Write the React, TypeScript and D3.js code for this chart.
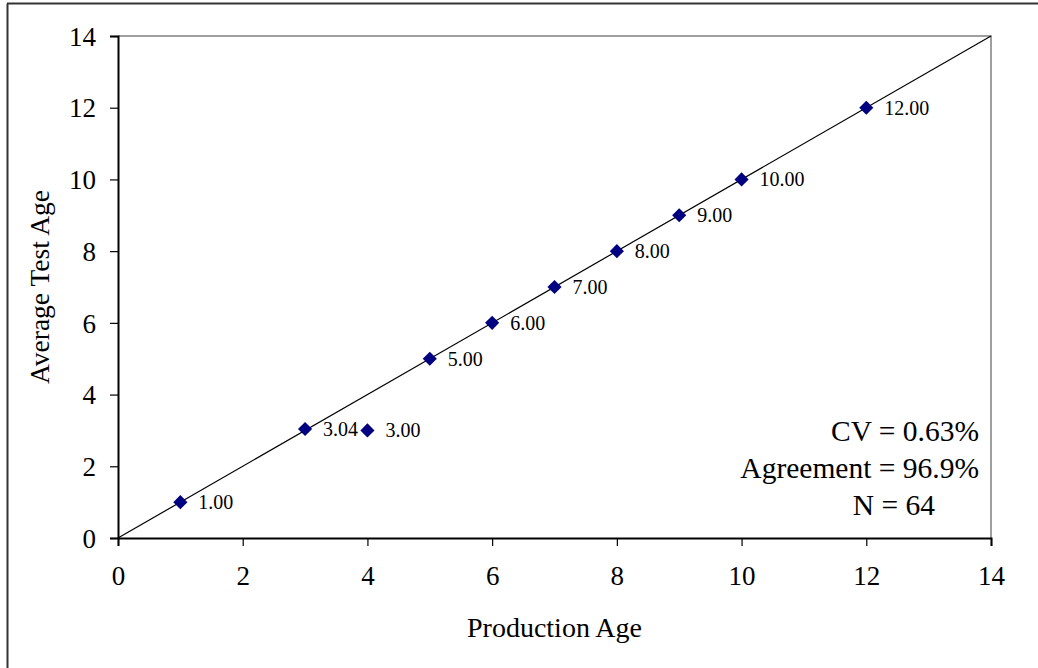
import React, { useEffect, useRef } from 'react';
import * as d3 from 'd3';

// production age vs average test age
const productionAge = [1, 3, 4, 5, 6, 7, 8, 9, 10, 12];
const testAge = [1.0, 3.04, 3.0, 5.0, 6.0, 7.0, 8.0, 9.0, 10.0, 12.0];
const tickValues = [0, 2, 4, 6, 8, 10, 12, 14];
const statLines = ['CV = 0.63%', 'Agreement = 96.9%', 'N = 64'];

const App: React.FC = () => {
  const svgRef = useRef<SVGSVGElement>(null);

  useEffect(() => {
    document.body.style.margin = '0';
    if (!svgRef.current) return;

    const width = 1038;
    const height = 668;
    const m = { left: 118, top: 36, right: 1038 - 991, bottom: 668 - 538 };
    const font = '"Liberation Serif", "Times New Roman", serif';

    const svg = d3.select(svgRef.current);
    svg.selectAll('*').remove();
    svg.attr('width', width).attr('height', height);

    const x = d3.scaleLinear().domain([0, 14]).range([m.left, width - m.right]);
    const y = d3.scaleLinear().domain([0, 14]).range([height - m.bottom, m.top]);

    // outer frame (only left and top visible)
    svg.append('line').attr('x1', 7.5).attr('x2', 7.5).attr('y1', 3.5).attr('y2', height)
      .attr('stroke', '#333').attr('stroke-width', 2);
    svg.append('line').attr('x1', 7).attr('x2', width).attr('y1', 3.5).attr('y2', 3.5)
      .attr('stroke', '#333').attr('stroke-width', 2);

    // top and right plot border
    svg.append('path')
      .attr('d', `M${x(0)},${y(14)}H${x(14)}V${y(0)}`)
      .attr('fill', 'none').attr('stroke', '#808080').attr('stroke-width', 1.5);

    // 1:1 line
    svg.append('line')
      .attr('x1', x(0)).attr('y1', y(0)).attr('x2', x(14)).attr('y2', y(14))
      .attr('stroke', '#000').attr('stroke-width', 1.2);

    const xAxis = svg.append('g')
      .attr('transform', `translate(0,${y(0)})`)
      .call(d3.axisBottom(x).tickValues(tickValues).tickSize(8).tickPadding(20).tickFormat(d3.format('d')));
    const yAxis = svg.append('g')
      .attr('transform', `translate(${x(0)},0)`)
      .call(d3.axisLeft(y).tickValues(tickValues).tickSize(8).tickPadding(14).tickFormat(d3.format('d')));

    [xAxis, yAxis].forEach((a) => {
      a.select('.domain').attr('stroke', '#000').attr('stroke-width', 2);
      a.selectAll('.tick line').attr('stroke', '#000').attr('stroke-width', 1.2);
      a.selectAll('.tick text')
        .attr('font-family', font).attr('font-size', 27).attr('fill', '#000');
    });
    yAxis.selectAll('.tick text').attr('dy', '0.34em');

    // axis titles
    svg.append('text')
      .attr('x', (x(0) + x(14)) / 2).attr('y', 637)
      .attr('text-anchor', 'middle')
      .attr('font-family', font).attr('font-size', 28)
      .text('Production Age');
    svg.append('text')
      .attr('transform', `translate(49,${(y(0) + y(14)) / 2}) rotate(-90)`)
      .attr('text-anchor', 'middle')
      .attr('font-family', font).attr('font-size', 27.5)
      .text('Average Test Age');

    const pts = productionAge.map((p, i) => ({ p, t: testAge[i] }));

    const diamond = d3.symbol().type(d3.symbolSquare).size(100);
    svg.append('g').selectAll('path')
      .data(pts).enter().append('path')
      .attr('d', diamond)
      .attr('transform', (d) => `translate(${x(d.p)},${y(d.t)}) rotate(45)`)
      .attr('fill', '#000080');

    svg.append('g').selectAll('text')
      .data(pts).enter().append('text')
      .attr('x', (d) => x(d.p) + 18)
      .attr('y', (d) => y(d.t))
      .attr('dy', '0.35em')
      .attr('font-family', font).attr('font-size', 20)
      .text((d) => d.t.toFixed(2));

    // stats text box (last line sits a bit to the left, as in the original)
    const rightEdge = [979, 979, 935];
    svg.append('g').selectAll('text')
      .data(statLines).enter().append('text')
      .attr('x', (d, i) => rightEdge[i])
      .attr('y', (d, i) => 441 + i * 37)
      .attr('text-anchor', 'end')
      .attr('font-family', font).attr('font-size', 29.5)
      .text((d) => d);
  }, []);

  return <svg ref={svgRef} style={{ display: 'block' }}></svg>;
};

export default App;
